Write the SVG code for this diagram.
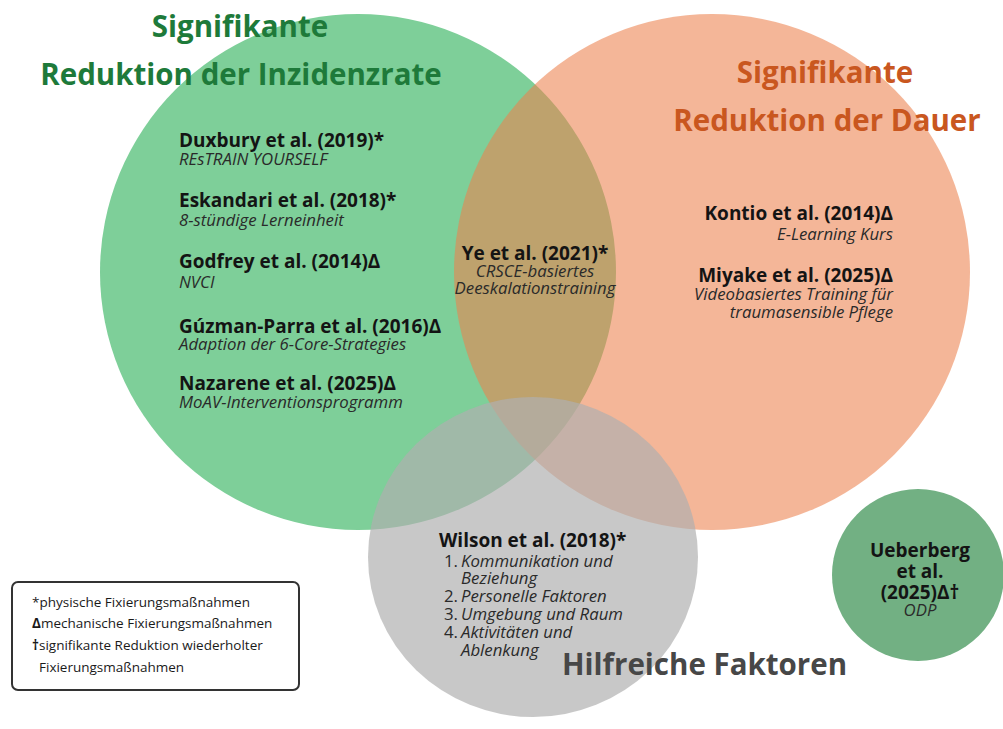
<svg xmlns="http://www.w3.org/2000/svg" width="1003" height="729" viewBox="0 0 1003 729">
<style>
.title{font-family:"Open Sans","Liberation Sans",sans-serif;font-weight:bold;font-size:29.5px}
.au{font-family:"Open Sans","Liberation Sans",sans-serif;font-weight:bold;font-size:19px;fill:#141414}
.sub{font-family:"Open Sans","Liberation Sans",sans-serif;font-style:italic;font-size:16.8px;fill:#2a2a2a}
.num{font-family:"Open Sans","Liberation Sans",sans-serif;font-size:16.8px;fill:#2a2a2a}
.leg{font-family:"Open Sans","Liberation Sans",sans-serif;font-size:13.5px;fill:#1a1a1a}
</style>
<rect width="1003" height="729" fill="#ffffff"/>
<g id="circle-incidence">
<circle cx="358" cy="272" r="258" fill="#7ecf99"/>
</g>
<g id="circle-duration">
<circle cx="712" cy="272" r="258" fill="#ec814d" fill-opacity="0.58"/>
</g>
<g id="circle-factors">
<ellipse cx="533" cy="557" rx="165" ry="160" fill="#afafaf" fill-opacity="0.69"/>
</g>
<g id="circle-ueberberg">
<circle cx="918" cy="575" r="86" fill="#72b083"/>
</g>
<g id="connectors"/>
<g id="title-incidence">
<text class="title" x="240" y="37" fill="#1e7a3a" text-anchor="middle">Signifikante</text>
<text class="title" x="241" y="85" fill="#1e7a3a" text-anchor="middle">Reduktion der Inzidenzrate</text>
</g>
<g id="title-duration">
<text class="title" x="825" y="83" fill="#c9571f" text-anchor="middle">Signifikante</text>
<text class="title" x="827" y="131" fill="#c9571f" text-anchor="middle">Reduktion der Dauer</text>
</g>
<g id="studies-incidence">
<text class="au" x="179" y="147">Duxbury et al. (2019)*</text>
<text class="sub" x="179" y="165">REsTRAIN YOURSELF</text>
<text class="au" x="179" y="207">Eskandari et al. (2018)*</text>
<text class="sub" x="179" y="226">8-stündige Lerneinheit</text>
<text class="au" x="179" y="268">Godfrey et al. (2014)Δ</text>
<text class="sub" x="179" y="288">NVCI</text>
<text class="au" x="179" y="333">Gúzman-Parra et al. (2016)Δ</text>
<text class="sub" x="179" y="350">Adaption der 6-Core-Strategies</text>
<text class="au" x="179" y="390">Nazarene et al. (2025)Δ</text>
<text class="sub" x="179" y="408">MoAV-Interventionsprogramm</text>
</g>
<g id="study-ye">
<text class="au" x="535" y="260" text-anchor="middle">Ye et al. (2021)*</text>
<text class="sub" x="535" y="277" text-anchor="middle">CRSCE-basiertes</text>
<text class="sub" x="535" y="294" text-anchor="middle">Deeskalationstraining</text>
</g>
<g id="studies-duration">
<text class="au" x="893" y="220" text-anchor="end">Kontio et al. (2014)Δ</text>
<text class="sub" x="893" y="240" text-anchor="end">E-Learning Kurs</text>
<text class="au" x="893" y="282" text-anchor="end">Miyake et al. (2025)Δ</text>
<text class="sub" x="893" y="300" text-anchor="end">Videobasiertes Training für</text>
<text class="sub" x="893" y="318" text-anchor="end">traumasensible Pflege</text>
</g>
<g id="study-wilson">
<text class="au" x="439" y="547">Wilson et al. (2018)*</text>
<text class="num" x="444" y="567">1.</text>
<text class="sub" x="461" y="567">Kommunikation und</text>
<text class="sub" x="461" y="584">Beziehung</text>
<text class="num" x="444" y="602">2.</text>
<text class="sub" x="461" y="602">Personelle Faktoren</text>
<text class="num" x="444" y="620">3.</text>
<text class="sub" x="461" y="620">Umgebung und Raum</text>
<text class="num" x="444" y="638">4.</text>
<text class="sub" x="461" y="638">Aktivitäten und</text>
<text class="sub" x="461" y="656">Ablenkung</text>
</g>
<g id="title-factors">
<text class="title" x="562" y="675" fill="#474747" font-size="29px">Hilfreiche Faktoren</text>
</g>
<g id="study-ueberberg">
<text class="au" x="920" y="557" text-anchor="middle">Ueberberg</text>
<text class="au" x="920" y="578" text-anchor="middle">et al.</text>
<text class="au" x="920" y="599" text-anchor="middle">(2025)Δ†</text>
<text class="sub" x="920" y="616" text-anchor="middle">ODP</text>
</g>
<g id="legend">
<rect x="12" y="582" width="287" height="108" rx="6" fill="#ffffff" stroke="#333333" stroke-width="2"/>
<text class="leg" x="32" y="607">*physische Fixierungsmaßnahmen</text>
<text class="leg" x="32" y="628"><tspan font-weight="bold">Δ</tspan>mechanische Fixierungsmaßnahmen</text>
<text class="leg" x="32" y="650"><tspan font-weight="bold">†</tspan>signifikante Reduktion wiederholter</text>
<text class="leg" x="39" y="672">Fixierungsmaßnahmen</text>
</g>
</svg>
